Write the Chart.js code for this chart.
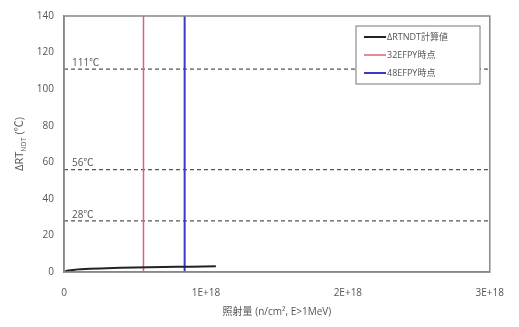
<!DOCTYPE html>
<html>
<head>
<meta charset="utf-8">
<script src="https://cdn.jsdelivr.net/npm/chart.js@4"></script>
<style>
  body { margin: 0; background: #fff; }
  #wrap { width: 519px; height: 327px; }
</style>
</head>
<body>
<div id="wrap"><canvas id="chart" width="519" height="327"></canvas></div>
<script>
// ======== Data ========
const fluenceX = [0, 0.03e18, 0.08e18, 0.15e18, 0.3e18, 0.5e18, 0.7e18, 0.9e18, 1.07e18];
const deltaRT = [0, 0.8, 1.3, 1.7, 2.1, 2.4, 2.7, 2.9, 3.1];
const efpy32X = 0.56e18;
const efpy48X = 0.85e18;
const limitLevels = [111, 56, 28];
const limitLabels = ['111℃', '56℃', '28℃'];
const seriesNames = ['ΔRTNDT計算値', '32EFPY時点', '48EFPY時点'];
const xTicks = [0, 1e18, 2e18, 3e18];
const yMax = 140;

const fontFamily = '"Open Sans", "Noto Sans CJK JP", sans-serif';
const textColor = '#555';
const axisColor = '#888';

// ======== Datasets ========
const datasets = [
    {
        label: seriesNames[0],
        data: fluenceX.map((x, i) => ({ x: x, y: deltaRT[i] })),
        borderColor: '#222',
        borderWidth: 2,
        pointRadius: 0,
        tension: 0.3,
    },
    {
        label: seriesNames[1],
        data: [{ x: efpy32X, y: 0 }, { x: efpy32X, y: yMax }],
        borderColor: '#e0607a',
        borderWidth: 1.5,
        pointRadius: 0,
    },
    {
        label: seriesNames[2],
        data: [{ x: efpy48X, y: 0 }, { x: efpy48X, y: yMax }],
        borderColor: '#3a3ac8',
        borderWidth: 2,
        pointRadius: 0,
    },
];
limitLevels.forEach(level => {
    datasets.push({
        label: '',
        data: [{ x: 0, y: level }, { x: 3e18, y: level }],
        borderColor: '#555',
        borderWidth: 1.2,
        borderDash: [4, 3],
        pointRadius: 0,
    });
});

// ======== Extras: box, labels, legend, y title ========
const extras = {
    id: 'extras',
    afterDraw(chart) {
        const ctx = chart.ctx;
        const area = chart.chartArea;
        const xs = chart.scales.x;
        const ys = chart.scales.y;
        ctx.save();

        // plot box
        ctx.strokeStyle = axisColor;
        ctx.lineWidth = 1.5;
        ctx.strokeRect(area.left, area.top, area.right - area.left, area.bottom - area.top);

        // limit labels
        ctx.fillStyle = textColor;
        ctx.font = '10px ' + fontFamily;
        ctx.textAlign = 'left';
        ctx.textBaseline = 'bottom';
        limitLevels.forEach((level, i) => {
            ctx.fillText(limitLabels[i], xs.getPixelForValue(0) + 8, ys.getPixelForValue(level) - 1);
        });

        // legend box
        const lx = 356, ly = 26, lw = 124, lh = 58;
        ctx.fillStyle = '#fff';
        ctx.fillRect(lx, ly, lw, lh);
        ctx.strokeStyle = '#777';
        ctx.lineWidth = 1;
        ctx.strokeRect(lx, ly, lw, lh);
        ctx.font = '9px ' + fontFamily;
        ctx.textBaseline = 'middle';
        for (let i = 0; i < 3; i++) {
            const yy = ly + 11 + i * 18;
            ctx.strokeStyle = datasets[i].borderColor;
            ctx.lineWidth = datasets[i].borderWidth;
            ctx.beginPath();
            ctx.moveTo(lx + 8, yy);
            ctx.lineTo(lx + 30, yy);
            ctx.stroke();
            ctx.fillStyle = textColor;
            ctx.fillText(seriesNames[i], lx + 31, yy);
        }

        // y axis title with subscript
        ctx.translate(20, (area.top + area.bottom) / 2);
        ctx.rotate(-Math.PI / 2);
        ctx.fillStyle = textColor;
        ctx.textBaseline = 'middle';
        const partA = 'ΔRT';
        const partSub = 'NDT';
        const partB = ' (℃)';
        ctx.font = '11px ' + fontFamily;
        const wA = ctx.measureText(partA).width;
        const wB = ctx.measureText(partB).width;
        ctx.font = '7px ' + fontFamily;
        const wS = ctx.measureText(partSub).width;
        const sx = -(wA + wS + wB) / 2;
        ctx.textAlign = 'left';
        ctx.font = '11px ' + fontFamily;
        ctx.fillText(partA, sx, 0);
        ctx.font = '7px ' + fontFamily;
        ctx.fillText(partSub, sx + wA, 4);
        ctx.font = '11px ' + fontFamily;
        ctx.fillText(partB, sx + wA + wS, 0);

        ctx.restore();
    }
};

// ======== Chart ========
new Chart(document.getElementById('chart').getContext('2d'), {
    type: 'line',
    data: { datasets: datasets },
    options: {
        responsive: false,
        animation: false,
        layout: { padding: { top: 16, right: 29, left: 0, bottom: 9 } },
        plugins: {
            legend: { display: false },
            tooltip: { enabled: false },
        },
        scales: {
            x: {
                type: 'linear',
                min: 0,
                max: 3e18,
                afterBuildTicks: (scale) => { scale.ticks = xTicks.map(v => ({ value: v })); },
                afterFit: (scale) => { scale.height = 46; },
                ticks: {
                    color: textColor,
                    font: { family: fontFamily, size: 10 },
                    padding: 15,
                    maxRotation: 0,
                    callback: (v) => v === 0 ? '0' : (v / 1e18) + 'E+18',
                },
                grid: { display: true, drawOnChartArea: false, tickLength: 0, color: axisColor },
                border: { color: axisColor, width: 1.5 },
                title: {
                    display: true,
                    text: '照射量 (n/cm², E>1MeV)',
                    color: textColor,
                    font: { family: fontFamily, size: 10 },
                    padding: { top: 2, bottom: 0 },
                },
            },
            y: {
                min: 0,
                max: yMax,
                afterFit: (scale) => { scale.width = 64; },
                ticks: {
                    stepSize: 20,
                    color: textColor,
                    font: { family: fontFamily, size: 10 },
                    padding: 10,
                },
                grid: { display: true, drawOnChartArea: false, tickLength: 0, color: axisColor },
                border: { color: axisColor, width: 1.5 },
            },
        },
    },
    plugins: [extras],
});
</script>
</body>
</html>
